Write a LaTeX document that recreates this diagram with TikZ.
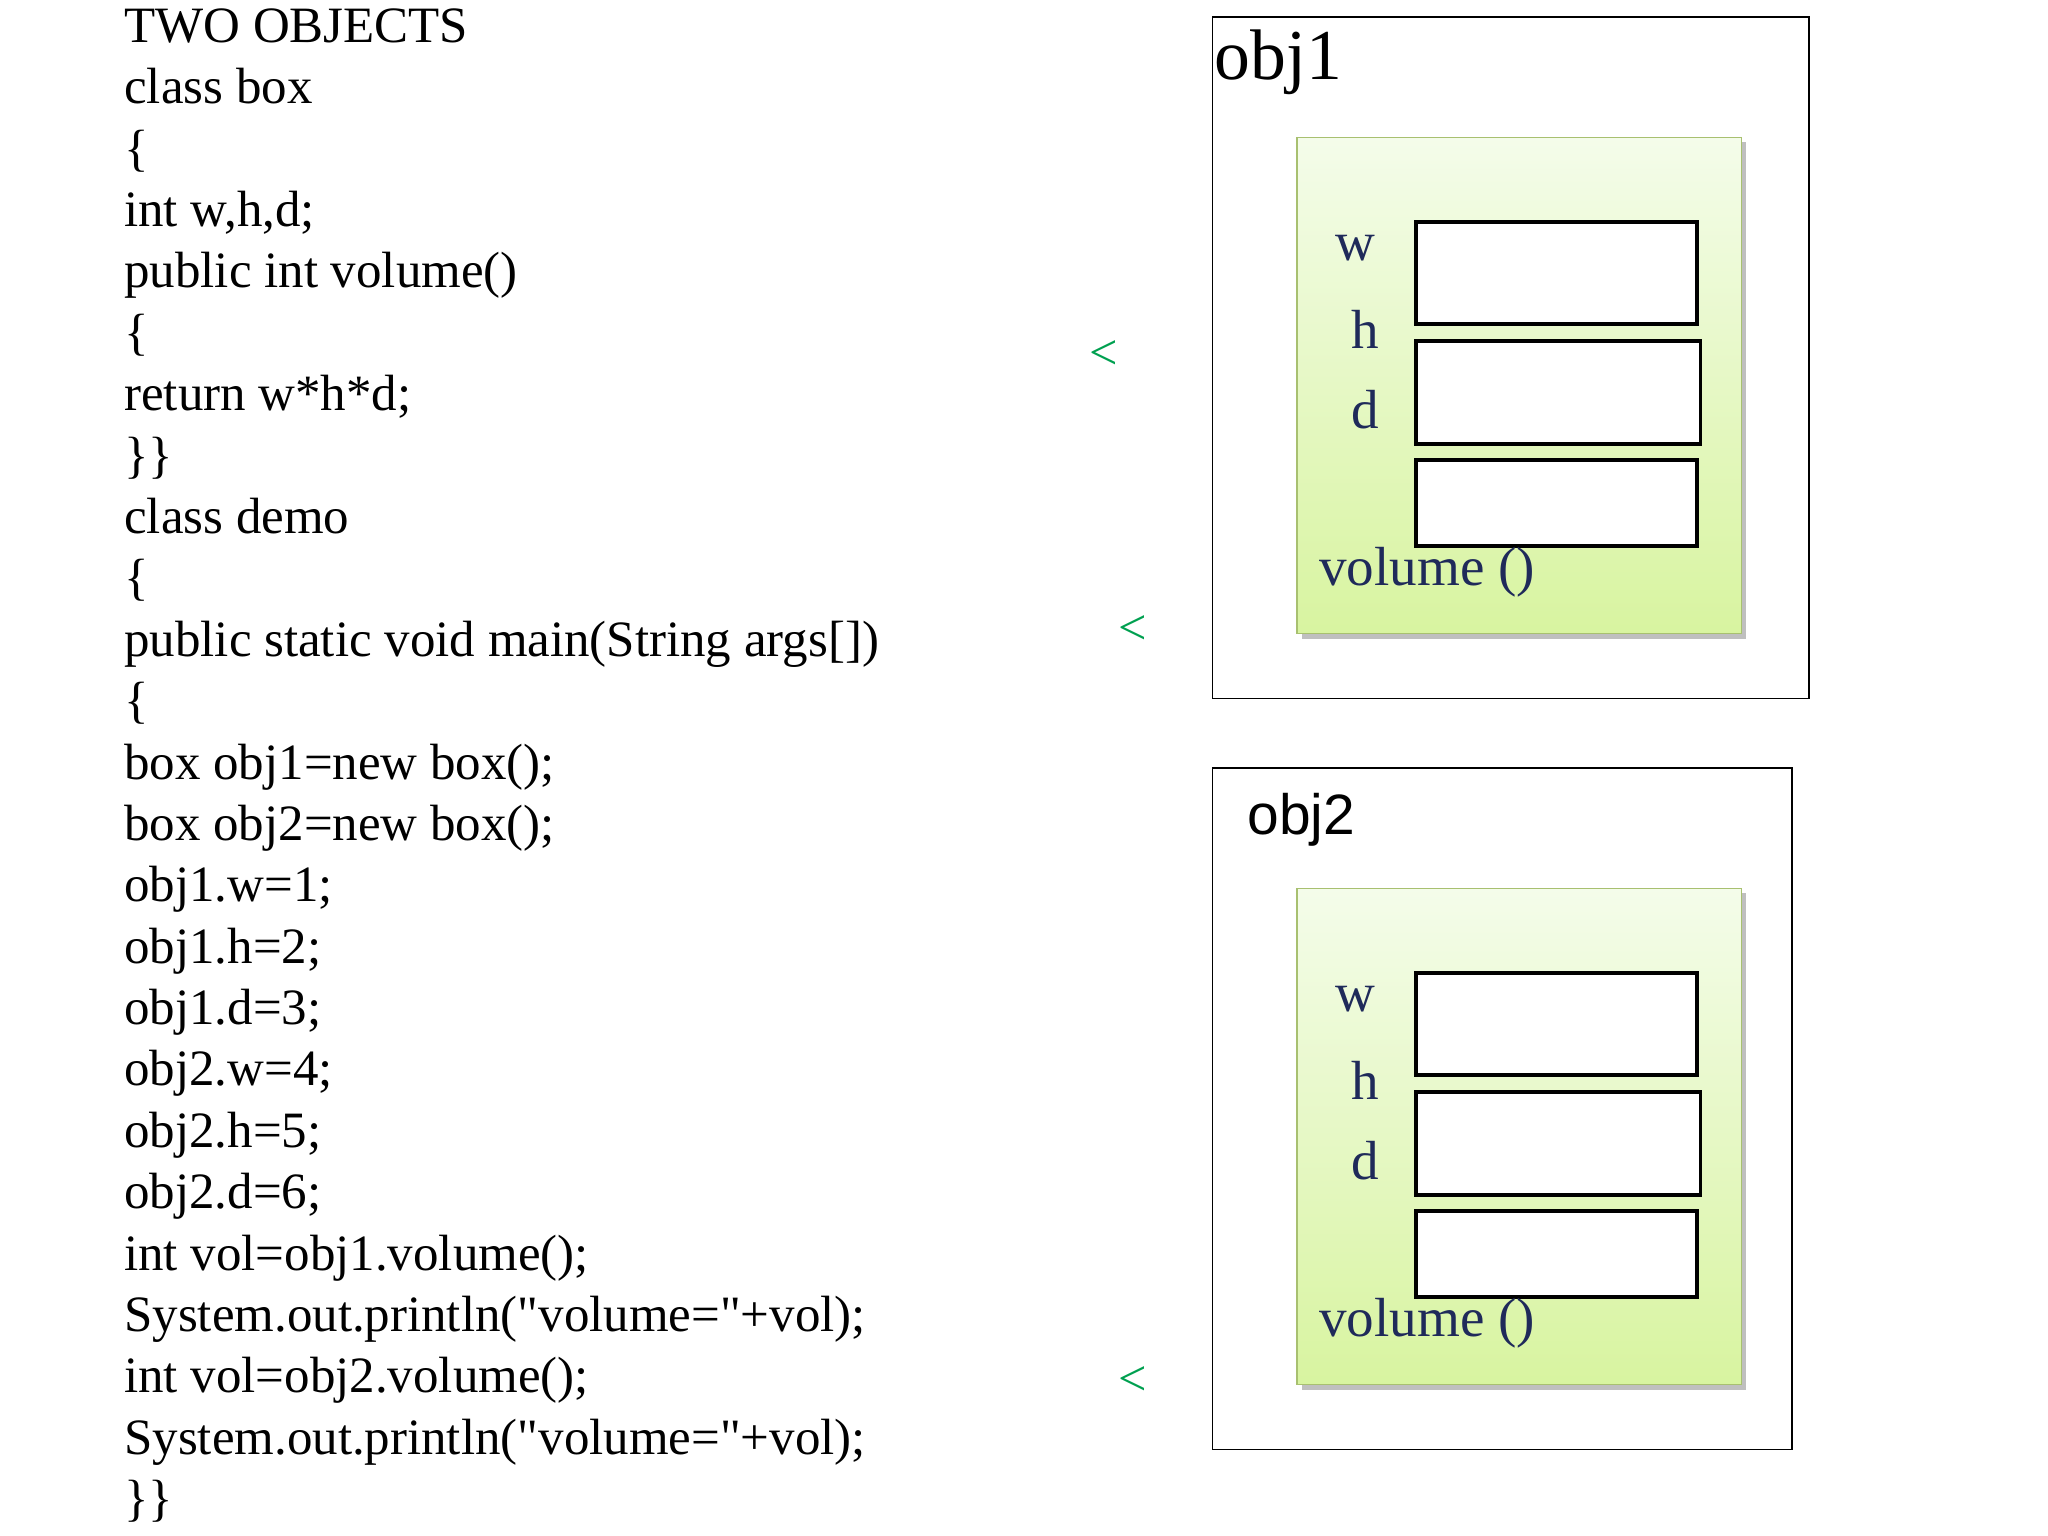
\documentclass[tikz,border=0pt]{standalone}
\usepackage{fontspec}
\setmainfont{Liberation Serif}
\newfontfamily\sansf{Liberation Sans}
\usetikzlibrary{shadows}
\definecolor{navy}{HTML}{1F2A5A}
\definecolor{gtop}{HTML}{F4FCEA}
\definecolor{gbot}{HTML}{D8F4A0}
\definecolor{gedge}{HTML}{A8C070}
\definecolor{lt}{HTML}{00A050}
\begin{document}
\begin{tikzpicture}[x=0.05cm,y=-0.05cm,
 code/.style={anchor=west,inner sep=0,font=\fontsize{55.5}{60}\selectfont},
 frame/.style={draw=black,line width=1.2pt},
 cell/.style={draw=black,fill=white,line width=4pt},
 lbl/.style={text=navy,inner sep=0,font=\fontsize{60}{60}\selectfont},
 lt/.style={text=lt,inner sep=0,font=\fontsize{55}{55}\selectfont}]
\useasboundingbox (0,0) rectangle (1568,1176);
\foreach \t [count=\i from 0] in {TWO OBJECTS,class box,\{,{int w,h,d;},public int volume(),\{,return w*h*d;,\}\},class demo,\{,public static void main(String args[]),\{,box obj1=new box();,box obj2=new box();,obj1.w=1;,obj1.h=2;,obj1.d=3;,obj2.w=4;,obj2.h=5;,obj2.d=6;,int vol=obj1.volume();,System.out.println(\textquotedbl volume=\textquotedbl+vol);,int vol=obj2.volume();,System.out.println(\textquotedbl volume=\textquotedbl+vol);,\}\}}
  \node[code] (c\i) at (95,{24+47*\i}) {\strut\t};
\draw[frame] (928,13) rectangle (1385,535);
\node[anchor=west,inner sep=0,font=\fontsize{78}{78}\selectfont] (o1) at (930,48) {obj1};
\draw[frame] (928,588) rectangle (1372,1110);
\node[anchor=west,inner sep=0,font=\sansf\fontsize{62}{62}\selectfont] (o2) at (955,628) {obj2};
\foreach \dy/\n in {0/a,575/b}{
  \fill[gray!50] (997,{109+\dy}) rectangle (1337,{489+\dy});
  \shade[top color=gtop,bottom color=gbot,draw=gedge,line width=1.2pt] (993,{105+\dy}) rectangle (1333,{485+\dy});
  \draw[cell] (1084,{170+\dy}) rectangle (1299,{248+\dy});
  \draw[cell] (1084,{261+\dy}) rectangle (1302,{340+\dy});
  \draw[cell] (1084,{352+\dy}) rectangle (1299,{418+\dy});
  \node[lbl] (w\n) at (1038,{190+\dy}) {w};
  \node[lbl] (h\n) at (1045,{252+\dy}) {h};
  \node[lbl] (d\n) at (1045,{314+\dy}) {d};
  \node[lbl,anchor=west] (v\n) at (1010,{438+\dy}) {volume ()};
}
\node[lt] (l1) at (845,272) {<};
\node[lt] (l2) at (867,482) {<};
\node[lt] (l3) at (867,1057) {<};
\end{tikzpicture}
\end{document}
